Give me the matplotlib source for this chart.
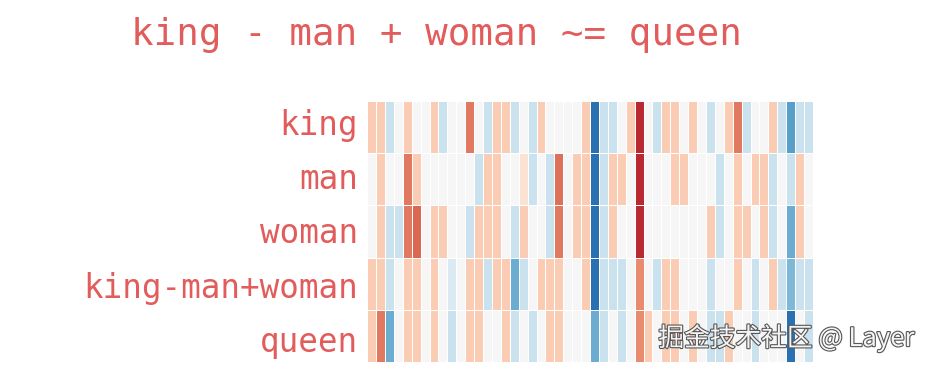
import numpy as np
import matplotlib
matplotlib.use("Agg")
import matplotlib.pyplot as plt
import matplotlib.patheffects as pe

# ------------------------------------------------------------
# Word vectors (50 dims)
# ------------------------------------------------------------

words = ["king", "man", "woman", "king-man+woman", "queen"]

king = [0.5, 0.5, -0.45, 0, 0.5, 0, 0, 0.5, -0.45, 0,
        0, 1.05, 0, -0.45, 0.5, 0.5, -0.45, 0, -0.45, 0.5,
        0, 0, 0, 0, 0.5, -1.5, -0.45, -0.45, 0, 0.5,
        1.5, 0, -0.45, 0.5, 0.5, 0, 0.5, 0, -0.45, 0,
        0.5, 1.05, -0.45, 0, 0, 0.5, -0.45, -1.1, -0.45, -0.45]

man = [0, 0.5, 0, 0, 1.05, 0.5, 0, 0, 0, 0,
       0, 0, -0.45, 0.5, 0.5, 0, 0, 0.3, -0.45, 0,
       -0.45, 1.1, 0, 0.5, 0.5, -1.5, -0.45, 0.5, 0.5, 0,
       1.5, 0, 0, 0, 0.5, 0.5, 0, 0, 0, -0.45,
       0, 0.5, 0, 0.5, 0.5, -0.45, 0, -0.45, 0.5, 0]

woman = [0, 0.5, -0.45, -0.45, 1.05, 1.15, 0, 0.5, 0.5, 0,
         0, -0.45, 0.5, 0.5, 0.5, 0, -0.45, 0.5, 0, 0,
         -0.45, 1.05, 0, 0.5, 0.5, -1.5, -0.45, 0.5, 0, 0,
         1.5, 0, 0, 0, 0, 0, 0, 0, 0.5, -0.45,
         0, 0.5, 0.5, 0, 0.5, -0.45, 0, -1.0, 0.5, 0]

king_man_woman = [0.5, 0.5, -0.45, 0, 0.5, 0.5, 0, 0.5, 0, -0.3,
                  0, 0.5, 0.5, -0.45, 0.5, 0.5, -1.0, -0.45, 0, 0.5,
                  0.5, 0.5, 0, 0, 0.5, -1.5, -0.45, -0.45, -0.45, 0,
                  0.95, 0, -0.45, 0.5, 0.5, 0, 0, 0, -0.45, 0,
                  0, 0.5, 0, -0.45, 0, 0.5, -0.45, -0.9, -0.45, -0.45]

queen = [0.5, 1.05, -1.0, 0, 0.5, 0.5, 0, 0.5, 0, -0.45,
         0, 0.5, 0.5, 0, 0, 0.5, -0.45, 0, -0.45, 0,
         0.5, 0.5, 0, 0, 0, -1.0, -0.45, 0, -0.45, 0,
         0.95, 0.5, 0, 0.5, 0.5, 0, 0.5, 0, -0.45, -0.45,
         0.5, 0, 0, -0.45, 0, 0, 0, -1.5, 0, -0.45]

title_text = "king - man + woman ~= queen"
watermark = "掘金技术社区 @ Layer"
text_color = "#e25c5c"

# ------------------------------------------------------------
# Plot
# ------------------------------------------------------------

vectors = np.array([king, man, woman, king_man_woman, queen])

fig = plt.figure(figsize=(9.27, 3.66), dpi=100)
ax = fig.add_axes([0.396, 0.011, 0.481, 0.713])

ax.pcolormesh(vectors, cmap="RdBu_r", vmin=-2, vmax=2,
              edgecolors="white", linewidth=0.6)
ax.set_xlim(0, vectors.shape[1])
ax.set_ylim(vectors.shape[0], 0)
ax.set_xticks([])
ax.set_yticks([])
for spine in ax.spines.values():
    spine.set_visible(False)

# row labels sit a little further apart than the rows themselves
for i, word in enumerate(words):
    baseline = 135 + 54.2 * i
    fig.text(358 / 927, 1 - baseline / 366, word, ha="right", va="baseline",
             family="DejaVu Sans Mono", fontsize=23.5, color=text_color)

fig.text(0.471, 0.905, title_text, ha="center", va="center",
         family="DejaVu Sans Mono", fontsize=27, color=text_color)

fig.text(0.987, 0.076, watermark, ha="right", va="center",
         family=["Noto Sans CJK SC", "DejaVu Sans"], fontsize=18.5,
         color="#f4f4f4",
         path_effects=[pe.withStroke(linewidth=1.6, foreground="#555555")])

fig.savefig("out.png", dpi=100)
